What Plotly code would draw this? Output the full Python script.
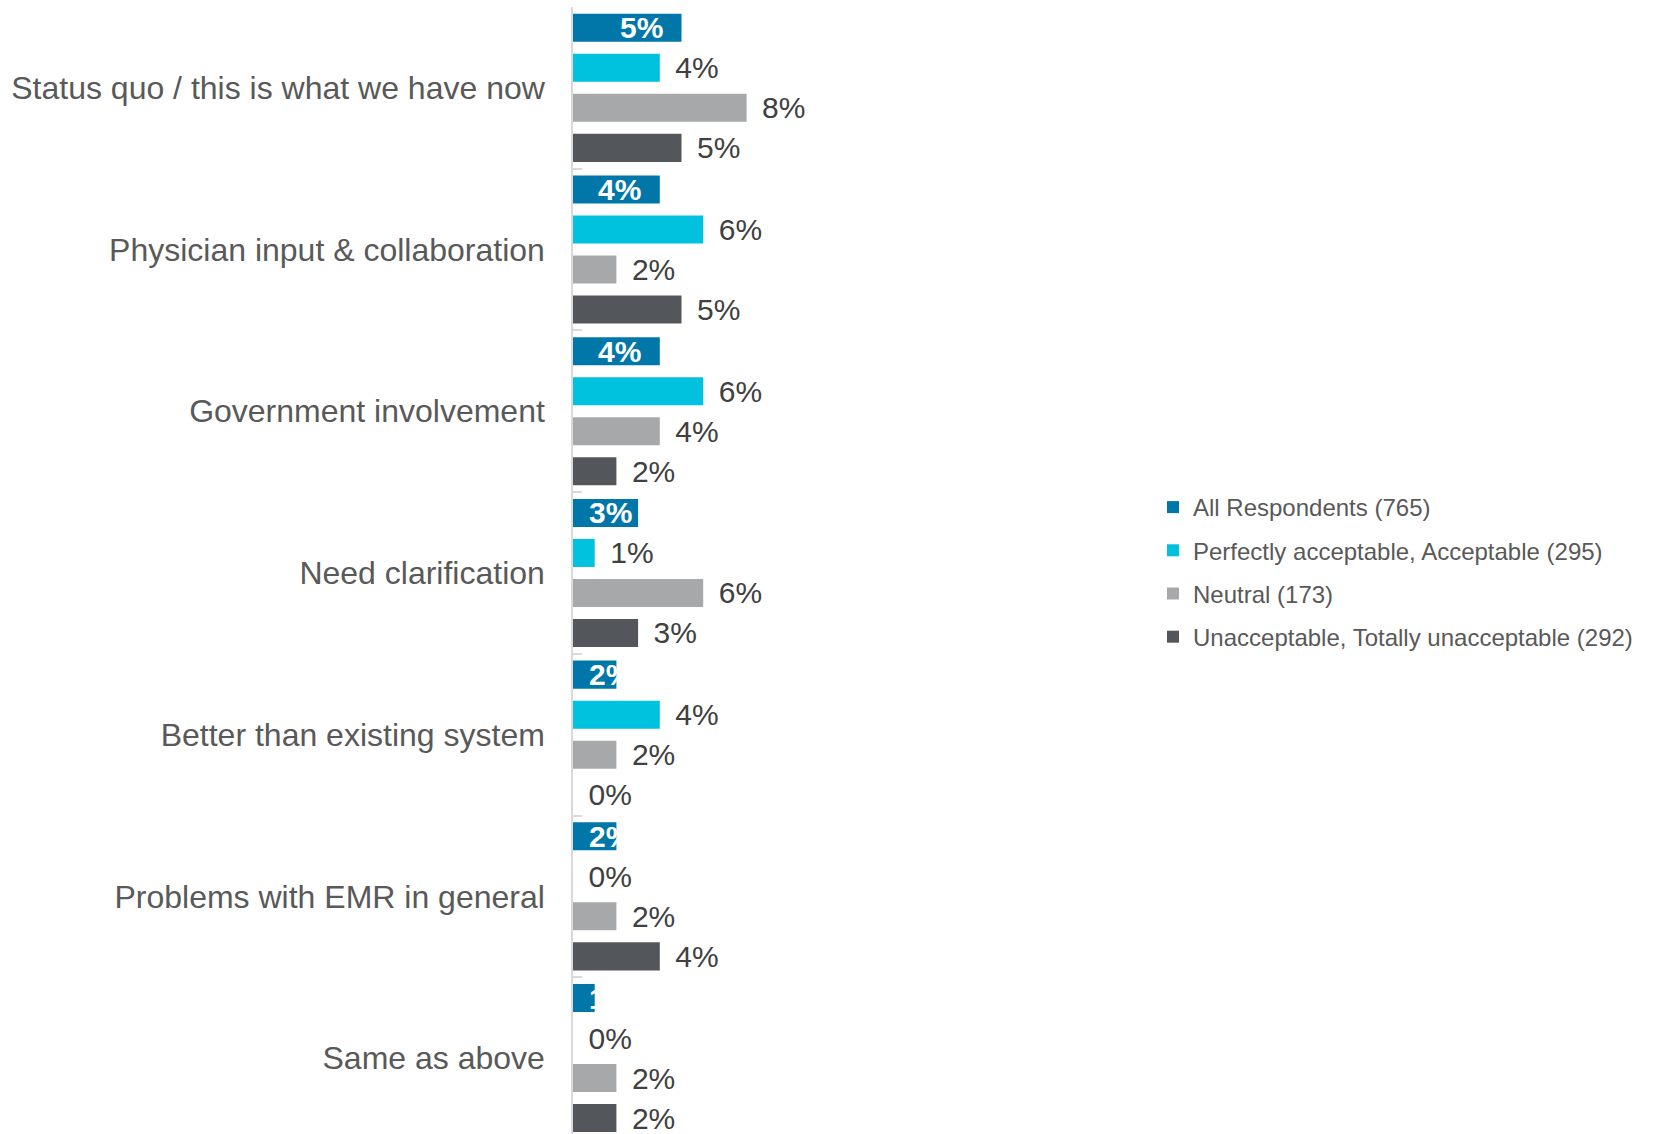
import plotly.graph_objects as go

CATEGORIES = [
    "Status quo / this is what we have now",
    "Physician input & collaboration",
    "Government involvement",
    "Need clarification",
    "Better than existing system",
    "Problems with EMR in general",
    "Same as above",
]
SERIES = [
    "All Respondents (765)",
    "Perfectly acceptable, Acceptable (295)",
    "Neutral (173)",
    "Unacceptable, Totally unacceptable (292)",
]
ALL_RESP = [5, 4, 4, 3, 2, 2, 1]
ACCEPTABLE = [4, 6, 6, 1, 4, 0, 0]
NEUTRAL = [8, 2, 4, 6, 2, 2, 2]
UNACCEPTABLE = [5, 5, 2, 3, 0, 4, 2]
VALUES = [ALL_RESP, ACCEPTABLE, NEUTRAL, UNACCEPTABLE]
COLORS = ["#0077A8", "#00C1DE", "#A7A8AA", "#53565A"]

FONT = "Arial, Liberation Sans, sans-serif"
W, H = 1654, 1134
LEFT, TOP = 573, 7
PX_PER_PCT = 21.7
X_MAX = 20
CAT_PX = 161.7
MIN_INSIDE_X = 3.6

fig = go.Figure()
for i, (name, vals, color) in enumerate(zip(SERIES, VALUES, COLORS)):
    kw = {}
    if i > 0:
        kw = dict(
            text=[f"\u2004\u200a{v}%" for v in vals],
            textposition="outside",
            textfont=dict(size=30, color="#404040", family=FONT),
            constraintext="none",
            cliponaxis=False,
        )
    fig.add_trace(go.Bar(
        y=CATEGORIES, x=vals, orientation="h", name=name,
        marker=dict(color=color, line=dict(width=0)),
        legendgroup=f"g{i}",
        **kw,
    ))

# inside labels for "All Respondents"
for cat, v in zip(CATEGORIES, ALL_RESP):
    fig.add_annotation(
        x=max(v, MIN_INSIDE_X), y=cat, xref="x", yref="y",
        text=f"<b>{v}%</b>", showarrow=False, xanchor="right", yanchor="middle",
        xshift=-17, yshift=60,
        font=dict(size=30, color="white", family=FONT),
    )

plot_w = X_MAX * PX_PER_PCT
plot_h = H - TOP
n_cats = plot_h / CAT_PX

fig.update_layout(
    width=W, height=H,
    margin=dict(l=LEFT, r=W - LEFT - plot_w, t=TOP, b=0, pad=0),
    paper_bgcolor="white", plot_bgcolor="white",
    barmode="group", bargap=0.01, bargroupgap=0.3,
    font=dict(family=FONT, color="#595959"),
    showlegend=True,
    legend=dict(
        xref="container", yref="container",
        x=1153 / W, y=1 - 572 / H, xanchor="left", yanchor="middle",
        font=dict(size=24, color="#595959", family=FONT),
        traceorder="grouped", tracegroupgap=9,
        bgcolor="rgba(0,0,0,0)",
    ),
    xaxis=dict(range=[0, X_MAX], visible=False, showgrid=False, zeroline=False),
    yaxis=dict(
        type="category", categoryorder="array", categoryarray=CATEGORIES,
        range=[n_cats - 0.5, -0.5],
        showline=True, linecolor="#D9D9D9", linewidth=1.5,
        ticks="inside", tickson="boundaries", ticklen=9, tickcolor="#D9D9D9", tickwidth=1.5,
        tickfont=dict(size=32, color="#595959", family=FONT),
        ticklabelstandoff=20,
        showgrid=False, zeroline=False,
    ),
)

fig.write_html("out.html")
